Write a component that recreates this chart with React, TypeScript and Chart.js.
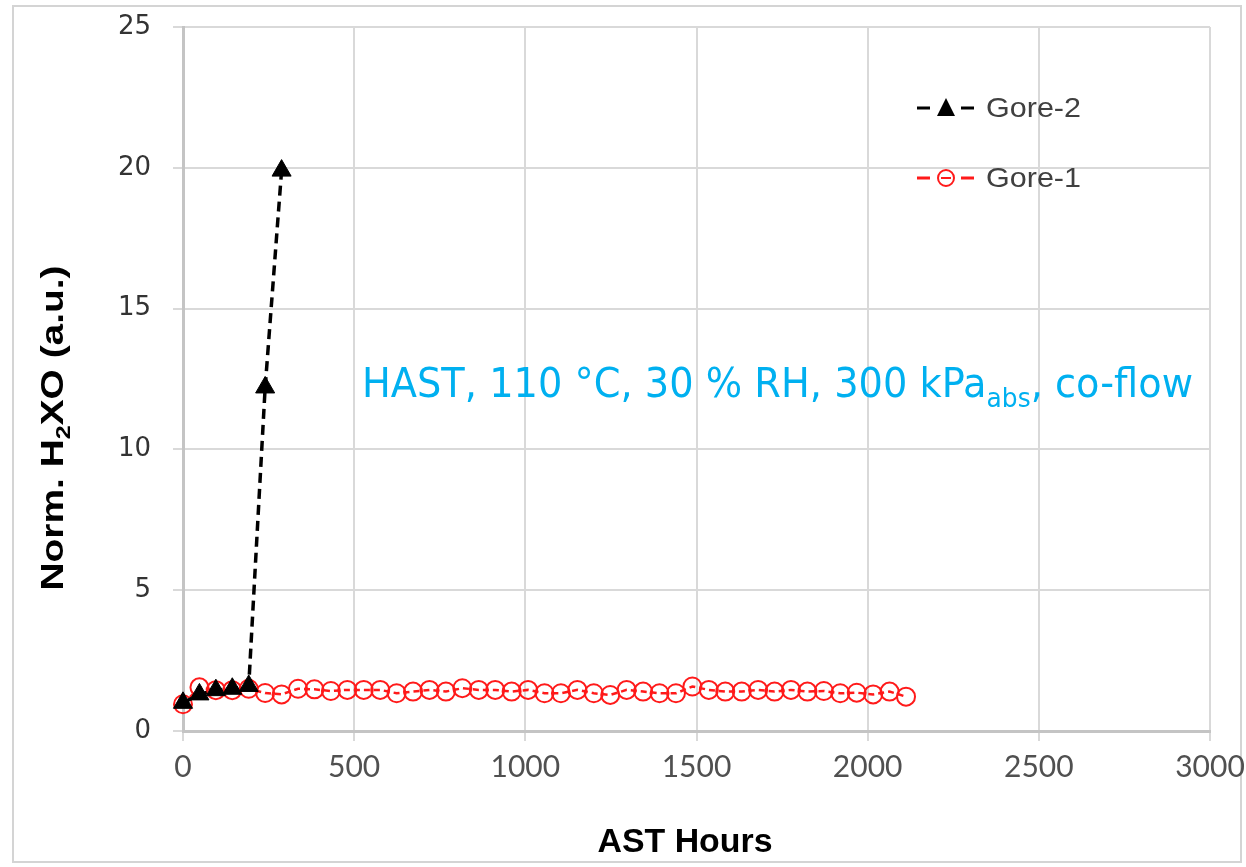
import React, { useEffect, useRef } from "react";
import { Chart, registerables } from "chart.js";

Chart.register(...registerables);

const gore2Hours = [0, 48, 96, 144, 192, 240, 288];
const gore2Values = [1.0, 1.3, 1.45, 1.5, 1.6, 12.2, 19.9];

const gore1Hours = [
  0, 48, 96, 144, 192, 240, 288, 336, 384, 432, 480, 528, 576, 624, 672, 720,
  768, 816, 864, 912, 960, 1008, 1056, 1104, 1152, 1200, 1248, 1296, 1344,
  1392, 1440, 1488, 1536, 1584, 1632, 1680, 1728, 1776, 1824, 1872, 1920,
  1968, 2016, 2064, 2112,
];
const gore1Values = [
  0.95, 1.55, 1.45, 1.45, 1.5, 1.35, 1.3, 1.5, 1.48, 1.42, 1.46, 1.46, 1.46,
  1.34, 1.4, 1.46, 1.4, 1.52, 1.46, 1.46, 1.4, 1.46, 1.34, 1.34, 1.46, 1.34,
  1.28, 1.46, 1.4, 1.34, 1.34, 1.58, 1.46, 1.4, 1.4, 1.46, 1.4, 1.46, 1.4,
  1.42, 1.34, 1.36, 1.3, 1.4, 1.22,
];

const xTicks = [0, 500, 1000, 1500, 2000, 2500, 3000];
const yTicks = [0, 5, 10, 15, 20, 25];

const seriesNames = ["Gore-2", "Gore-1"];
const xTitle = "AST Hours";
const yTitleParts = ["Norm. H", "2", "XO (a.u.)"];
const noteParts = ["HAST, 110 °C, 30 % RH, 300 kPa", "abs", ", co-flow"];

type Part = { text: string; font: string; dy: number };

function measureParts(ctx: CanvasRenderingContext2D, parts: Part[]) {
  let w = 0;
  for (const p of parts) {
    ctx.font = p.font;
    w += ctx.measureText(p.text).width;
  }
  return w;
}

function drawParts(ctx: CanvasRenderingContext2D, parts: Part[], x0: number, y0: number) {
  let x = x0;
  for (const p of parts) {
    ctx.font = p.font;
    ctx.fillText(p.text, x, y0 + p.dy);
    x += ctx.measureText(p.text).width;
  }
}

const decorPlugin = {
  id: "decor",
  beforeDraw(chart: any) {
    const ctx = chart.ctx as CanvasRenderingContext2D;
    ctx.save();
    ctx.fillStyle = "#ffffff";
    ctx.fillRect(0, 0, chart.width, chart.height);
    ctx.strokeStyle = "#d4d4d4";
    ctx.lineWidth = 2;
    ctx.strokeRect(13, 6, 1228, 856);
    ctx.restore();
  },
  afterDraw(chart: any) {
    const ctx = chart.ctx as CanvasRenderingContext2D;
    ctx.save();

    // Y title (rotated, with subscript)
    const yParts: Part[] = [
      { text: yTitleParts[0], font: "bold 31px 'Liberation Sans'", dy: 0 },
      { text: yTitleParts[1], font: "bold 20px 'Liberation Sans'", dy: 7 },
      { text: yTitleParts[2], font: "bold 31px 'Liberation Sans'", dy: 0 },
    ];
    ctx.fillStyle = "#000000";
    ctx.textBaseline = "alphabetic";
    ctx.textAlign = "left";
    const yw = measureParts(ctx, yParts);
    ctx.save();
    ctx.translate(63, 428);
    ctx.rotate(-Math.PI / 2);
    ctx.scale(325 / yw, 1);
    drawParts(ctx, yParts, -yw / 2, 0);
    ctx.restore();

    // X title
    ctx.font = "bold 34px 'Liberation Sans'";
    const xw = ctx.measureText(xTitle).width;
    ctx.save();
    ctx.translate(685, 852);
    ctx.scale(175 / xw, 1);
    ctx.fillText(xTitle, -xw / 2, 0);
    ctx.restore();

    // Annotation
    const nParts: Part[] = [
      { text: noteParts[0], font: "40px 'DejaVu Sans'", dy: 0 },
      { text: noteParts[1], font: "26px 'DejaVu Sans'", dy: 10 },
      { text: noteParts[2], font: "40px 'DejaVu Sans'", dy: 0 },
    ];
    ctx.fillStyle = "#00b0f0";
    const nw = measureParts(ctx, nParts);
    ctx.save();
    ctx.translate(362, 397);
    ctx.scale(831 / nw, 1);
    drawParts(ctx, nParts, 0, 0);
    ctx.restore();

    // Legend
    const rows = [
      { name: seriesNames[0], y: 108, color: "#000000", marker: "tri" },
      { name: seriesNames[1], y: 178, color: "#ff1a1a", marker: "circ" },
    ];
    for (const r of rows) {
      ctx.strokeStyle = r.color;
      ctx.lineWidth = 3;
      ctx.beginPath();
      ctx.moveTo(917, r.y);
      ctx.lineTo(930, r.y);
      ctx.moveTo(961, r.y);
      ctx.lineTo(974, r.y);
      ctx.stroke();
      if (r.marker === "tri") {
        ctx.fillStyle = r.color;
        ctx.beginPath();
        ctx.moveTo(946, r.y - 10);
        ctx.lineTo(955, r.y + 8);
        ctx.lineTo(937, r.y + 8);
        ctx.closePath();
        ctx.fill();
      } else {
        ctx.lineWidth = 2;
        ctx.beginPath();
        ctx.arc(946, r.y, 8, 0, Math.PI * 2);
        ctx.stroke();
        ctx.beginPath();
        ctx.moveTo(941, r.y);
        ctx.lineTo(951, r.y);
        ctx.stroke();
      }
      ctx.fillStyle = "#404040";
      ctx.font = "28px 'Liberation Sans'";
      ctx.textBaseline = "middle";
      const tw = ctx.measureText(r.name).width;
      ctx.save();
      ctx.translate(986, r.y + 1);
      ctx.scale(95 / tw, 1);
      ctx.fillText(r.name, 0, 0);
      ctx.restore();
    }

    ctx.restore();
  },
};

export default function App() {
  const ref = useRef<HTMLCanvasElement | null>(null);

  useEffect(() => {
    document.body.style.margin = "0";
    const canvas = ref.current;
    if (!canvas) return;
    const chart = new Chart(canvas, {
      type: "line",
      data: {
        datasets: [
          {
            label: seriesNames[0],
            data: gore2Hours.map((h, i) => ({ x: h, y: gore2Values[i] })),
            borderColor: "#000000",
            backgroundColor: "#000000",
            borderWidth: 3.5,
            borderDash: [10, 6],
            pointStyle: "triangle",
            pointRadius: 11,
            pointBorderWidth: 1,
            pointBackgroundColor: "#000000",
            pointBorderColor: "#000000",
            fill: false,
            tension: 0,
            clip: false,
          },
          {
            label: seriesNames[1],
            data: gore1Hours.map((h, i) => ({ x: h, y: gore1Values[i] })),
            borderColor: "#ff1a1a",
            backgroundColor: "rgba(0,0,0,0)",
            borderWidth: 2.5,
            borderDash: [6, 4],
            pointStyle: "circle",
            pointRadius: 9,
            pointBorderWidth: 2,
            pointBackgroundColor: "rgba(0,0,0,0)",
            pointBorderColor: "#ff1a1a",
            fill: false,
            tension: 0,
            clip: false,
          },
        ],
      },
      options: {
        animation: false,
        responsive: false,
        devicePixelRatio: 1,
        layout: { padding: { left: 0, top: 27, right: 36, bottom: 0 } },
        plugins: {
          legend: { display: false },
          tooltip: { enabled: false },
          title: { display: false },
        },
        scales: {
          x: {
            type: "linear",
            min: 0,
            max: 3000,
            afterBuildTicks: (scale: any) => {
              scale.ticks = xTicks.map((v) => ({ value: v }));
            },
            afterFit: (scale: any) => {
              scale.height = 136;
              scale.paddingLeft = 0;
              scale.paddingRight = 0;
            },
            ticks: {
              font: { family: "'Liberation Sans Narrow', Lato", size: 30 },
              color: "#505050",
              padding: 8,
              maxRotation: 0,
              callback: (v: any) => String(v),
            },
            grid: { color: "#d9d9d9", lineWidth: 2, tickLength: 10 },
            border: { color: "#c4c4c4", width: 3 },
          },
          y: {
            type: "linear",
            min: 0,
            max: 25,
            afterBuildTicks: (scale: any) => {
              scale.ticks = yTicks.map((v) => ({ value: v }));
            },
            afterFit: (scale: any) => {
              scale.width = 183;
              scale.paddingTop = 0;
              scale.paddingBottom = 0;
            },
            ticks: {
              font: { family: "'DejaVu Sans'", size: 26 },
              color: "#333333",
              padding: 22,
              callback: (v: any) => String(v),
            },
            grid: { color: "#d9d9d9", lineWidth: 2, tickLength: 10 },
            border: { color: "#c4c4c4", width: 3 },
          },
        },
      },
      plugins: [decorPlugin],
    } as any);
    return () => chart.destroy();
  }, []);

  return (
    <canvas
      ref={ref}
      width={1246}
      height={867}
      style={{ display: "block", width: 1246, height: 867 }}
    />
  );
}
